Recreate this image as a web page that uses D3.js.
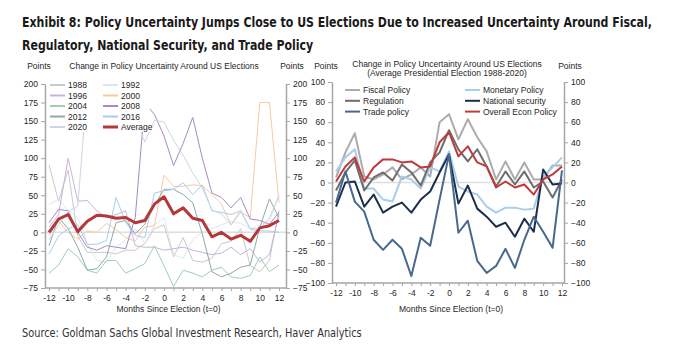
<!DOCTYPE html>
<html><head><meta charset="utf-8">
<script src="https://cdn.jsdelivr.net/npm/d3@7"></script>
<style>body{margin:0;background:#fff}svg{display:block}</style>
</head><body><svg id="c" width="678" height="363"></svg>
<script>
// ---------- data ----------
const months = d3.range(-12, 13);
const xTickLabels = [-12,-10,-8,-6,-4,-2,0,2,4,6,8,10,12];
const leftYTicks = [-75,-50,-25,0,25,50,75,100,125,150,175,200];
const rightYTicks = [-100,-80,-60,-40,-20,0,20,40,60,80,100];

// Left panel: change in policy uncertainty by election year
const s1988 = [91,42,84,-5,-27,-27,-27,-29,-24,-24,-15,5,10,-33,-7,-38,-40,-35,-15,-12,5,-45,-53,-38,30];
const s1992 = [37,45,30,20,-15,-38,-40,-20,-10,5,-15,10,20,-30,-35,-10,0,5,10,15,12,5,10,15,50];
const s1996 = [7,24,100,42,43,29,20,24,29,-18,-20,-20,-24,-22,-20,-24,-27,-30,-28,-20,-30,-22,-40,-30,25];
const s2000 = [-4,15,0,-9,2,0,12,4,-7,-12,7,9,77,62,62,64,63,51,38,10,27,20,175,175,40];
const s2004 = [-55,-44,-22,-33,-51,-55,-38,-38,-55,-49,-42,-18,-45,-73,-51,-55,-60,-51,-47,-60,-62,-58,-33,-53,-44];
const s2008 = [13,31,29,0,-20,-24,-18,-20,-22,20,175,159,130,90,120,155,100,53,47,33,47,18,16,11,27];
const s2012 = [-18,20,5,-20,-51,-49,-33,13,16,-2,11,36,58,58,51,40,-2,-53,-60,-55,-47,-44,7,45,20];
const s2016 = [-29,-5,5,10,-16,-16,-11,47,13,-4,-7,53,56,58,67,51,64,29,27,24,29,4,2,2,0];
const s2020 = [-10,10,28,35,198,185,175,168,160,155,122,151,149,124,104,80,60,30,25,10,30,5,5,20,50];
const sAverage = [0,18,24,1,15,23,22,19,20,13,16,38,48,25,33,19,16,-6,0,-9,-4,-12,6,9,16];

// Right panel: average presidential election 1988-2020, by policy category
const fiscal = [5,30,49,6,3,8,15,3,8,15,6,60,68,43,63,45,31,3,21,3,20,3,3,17,17];
const monetary = [11,25,33,-6,-6,-17,-19,6,3,-6,15,11,31,-4,-9,-12,-24,-30,-25,-25,-27,-26,6,15,25];
const regulation = [-8,10,22,-8,5,10,2,18,10,-3,20,30,52,33,21,33,16,-4,11,-2,11,-5,1,-15,3];
const nationalSecurity = [-24,0,1,-24,-12,-30,-24,-20,-30,-17,-9,10,28,-21,-3,-26,-34,-44,-40,-54,-36,-49,13,-2,-1];
const tradePolicy = [-20,11,-19,-29,-57,-67,-57,-66,-93,-55,-63,-17,28,-50,-38,-78,-90,-83,-66,-85,-57,-34,-49,-65,12];
const overallEcon = [1,16,25,1,15,23,23,20,21,15,16,40,50,26,36,20,16,-5,1,-5,-2,-12,3,8,16];

const leftSeries = [
  {name:"1988", values:s1988, color:"#c9c9c9", w:1},
  {name:"1992", values:s1992, color:"#d9e8f5", w:1},
  {name:"1996", values:s1996, color:"#c8b2dc", w:1},
  {name:"2000", values:s2000, color:"#f6c9a3", w:1},
  {name:"2004", values:s2004, color:"#9fcfb2", w:1},
  {name:"2008", values:s2008, color:"#a68bc6", w:1},
  {name:"2012", values:s2012, color:"#90a8a6", w:1},
  {name:"2016", values:s2016, color:"#a8cdeb", w:1},
  {name:"2020", values:s2020, color:"#c9d7e6", w:1},
  {name:"Average", values:sAverage, color:"#b5373a", w:3}
];
const rightSeries = [
  {name:"Fiscal Policy", values:fiscal, color:"#acacac", w:2},
  {name:"Monetary Policy", values:monetary, color:"#a9cdea", w:2},
  {name:"Regulation", values:regulation, color:"#6d6d6d", w:2},
  {name:"National security", values:nationalSecurity, color:"#1b2f4a", w:2},
  {name:"Trade policy", values:tradePolicy, color:"#48688c", w:2},
  {name:"Overall Econ Policy", values:overallEcon, color:"#c0393b", w:2}
];

// ---------- drawing ----------
const svg = d3.select("#c");
const TXT = "#262626", AX = "#a6a6a6";
const chartFont = "'Liberation Sans', Arial, sans-serif";
const condFont = "'Liberation Sans Narrow','DejaVu Sans Condensed','Roboto', sans-serif";

function measure(str, size, bold) {
  const n = svg.append("text").attr("font-family",condFont).attr("font-weight",bold?"bold":"normal")
    .attr("font-size",size).text(str);
  const w = n.node().getComputedTextLength(); n.remove(); return w;
}
const title1 = "Exhibit 8: Policy Uncertainty Jumps Close to US Elections Due to Increased Uncertainty Around Fiscal,";
const title2 = "Regulatory, National Security, and Trade Policy";
const source = "Source: Goldman Sachs Global Investment Research, Haver Analytics";
const tSize = (14.5 * 630 / measure(title1, 14.5, true)).toFixed(2);
const sSize = (12 * 340 / measure(source, 12, false)).toFixed(2);
[[title1,27],[title2,50]].forEach(([s,yy]) => {
  svg.append("text").attr("transform",`translate(22,${yy}) scale(1,1.1)`).attr("font-family",condFont)
    .attr("font-weight","bold").attr("font-size",tSize).attr("fill","#1a1a1a").text(s);
});
svg.append("text").attr("transform","translate(22,337) scale(1,1.05)").attr("font-family",condFont)
  .attr("font-size",sSize).attr("fill","#333").text(source);

function panel(opt) {
  const g = svg.append("g");
  const x = d3.scalePoint().domain(months).range([opt.x0, opt.x1]);
  const y = d3.scaleLinear().domain(opt.yDomain).range([opt.yBottom, opt.yTop]);
  const clipId = "clip" + opt.id;
  g.append("clipPath").attr("id",clipId).append("rect")
    .attr("x",opt.axL).attr("y",opt.yTop).attr("width",opt.axR-opt.axL).attr("height",opt.yBottom-opt.yTop);
  // zero line
  g.append("line").attr("x1",opt.axL).attr("x2",opt.axR).attr("y1",y(0)).attr("y2",y(0))
    .attr("stroke","#dedede").attr("stroke-width",1.5);
  // lines
  const line = d3.line().x((d,i)=>x(months[i])).y(d=>y(d));
  const lg = g.append("g").attr("clip-path",`url(#${clipId})`);
  opt.series.forEach(s => {
    lg.append("path").datum(s.values).attr("d",line).attr("fill","none")
      .attr("stroke",s.color).attr("stroke-width",s.w).attr("stroke-linejoin","round");
  });
  // y axes
  const yl = g.append("g").attr("transform",`translate(${opt.axL},0)`)
    .call(d3.axisLeft(y).tickValues(opt.yTicks).tickSize(4).tickSizeOuter(0).tickPadding(3));
  const yr = g.append("g").attr("transform",`translate(${opt.axR},0)`)
    .call(d3.axisRight(y).tickValues(opt.yTicks).tickSize(4).tickSizeOuter(0).tickPadding(3));
  // x axis
  const xa = g.append("g").attr("transform",`translate(0,${opt.yBottom})`)
    .call(d3.axisBottom(x).tickValues(months).tickSize(3).tickSizeOuter(0).tickPadding(4)
      .tickFormat(d => xTickLabels.includes(d) ? d : ""));
  xa.select(".domain").remove();
  g.append("line").attr("x1",opt.axL).attr("x2",opt.axR).attr("y1",opt.yBottom).attr("y2",opt.yBottom)
    .attr("stroke",AX).attr("stroke-width",1.5);
  [yl,yr,xa].forEach(a => {
    a.selectAll(".domain").attr("stroke",AX).attr("stroke-width",1.5);
    a.selectAll(".tick line").attr("stroke",AX);
    a.selectAll("text").attr("font-family",chartFont).attr("font-size",8.5).attr("fill",TXT);
  });
  // labels
  const t = (xx,yy,str,anchor) => g.append("text").attr("x",xx).attr("y",yy).attr("text-anchor",anchor||"middle")
    .attr("font-family",chartFont).attr("font-size",8.5).attr("fill",TXT).text(str);
  t(opt.axL-6, 69, "Points");
  t(opt.axR+6, 69, "Points");
  opt.titles.forEach((s,i) => t(opt.titleX, opt.titleY + i*9, s));
  t((opt.axL+opt.axR)/2 + 3, 312, "Months Since Election (t=0)");
  // legend box (white, hides lines behind it)
  if (opt.legBox) {
    g.append("rect").attr("x",opt.legBox[0]).attr("y",opt.legBox[1])
      .attr("width",opt.legBox[2]).attr("height",opt.legBox[3]).attr("fill","#fff");
  }
  // legend: two columns, filled row by row
  opt.series.forEach((s,i) => {
    const col = i % 2;
    const row = Math.floor(i / 2);
    const lx = opt.legX[col], ly = opt.legY + row*opt.legDy;
    g.append("line").attr("x1",lx).attr("x2",lx+opt.legLen).attr("y1",ly).attr("y2",ly)
      .attr("stroke",s.color).attr("stroke-width",s.w === 3 ? 3 : 2);
    t(lx+opt.legLen+3, ly+3, s.name, "start");
  });
  return g;
}

panel({
  id:"L", x0:49, x1:279, axL:45, axR:286, yDomain:[-75,200], yBottom:288, yTop:84,
  yTicks:leftYTicks, series:leftSeries,
  titles:["Change  in Policy Uncertainty Around  US Elections"], titleX:164, titleY:69,
  legX:[50,103], legY:85, legDy:10.5, legLen:15, legBox:[47,79,103,53]
});
panel({
  id:"R", x0:336, x1:562, axL:332, axR:564, yDomain:[-100,100], yBottom:283, yTop:82,
  yTicks:rightYTicks, series:rightSeries,
  titles:["Change in Policy Uncertainty Around  US Elections","(Average  Presidential  Election 1988-2020)"], titleX:447, titleY:67,
  legX:[345,465], legY:90, legDy:10.8, legLen:15
});
</script>
</body></html>
